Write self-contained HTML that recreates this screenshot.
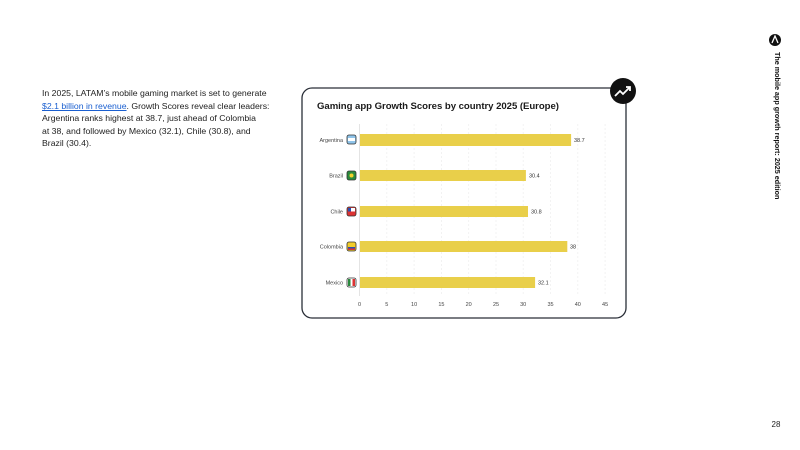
<!DOCTYPE html>
<html><head><meta charset="utf-8"><style>
html,body{margin:0;padding:0;background:#fff;width:800px;height:450px;overflow:hidden;font-family:"Liberation Sans",sans-serif;}
.p{position:absolute;left:42px;top:87px;font-size:8.7px;line-height:12.5px;color:#222;white-space:nowrap;}
.p a{color:#1a5fd0;text-decoration:underline;}
.v{position:absolute;left:770px;top:52px;transform-origin:0 0;transform:rotate(90deg) translateY(-12px);font-size:7.2px;font-weight:bold;white-space:nowrap;color:#111;}
</style></head><body>
<div class="p">In 2025, LATAM’s mobile gaming market is set to generate<br><a>$2.1 billion in revenue</a>. Growth Scores reveal clear leaders:<br>Argentina ranks highest at 38.7, just ahead of Colombia<br>at 38, and followed by Mexico (32.1), Chile (30.8), and<br>Brazil (30.4).</div>
<div class="v">The mobile app growth report: 2025 edition</div>
<svg width="800" height="450" style="position:absolute;left:0;top:0" font-family="Liberation Sans, sans-serif">
<circle cx="775" cy="40" r="6" fill="#111"/>
<path d="M772 43 L775 36 L778 43" stroke="#fff" stroke-width="1.3" fill="none"/>
<text x="776" y="427" font-size="8" text-anchor="middle" fill="#222">28</text>
<rect x="302" y="88" width="324" height="230" rx="10" fill="#fff" stroke="#2a2f38" stroke-width="1.3"/>
<circle cx="623" cy="91" r="13" fill="#111"/>
<path d="M615 96 L620 91 L623 94 L630 87 M626 87 L630 87 L630 91" stroke="#fff" stroke-width="1.8" fill="none"/>
<text x="317" y="109" font-size="9.6" font-weight="bold" fill="#1a1a1a" textLength="242">Gaming app Growth Scores by country 2025 (Europe)</text>
<g stroke="#eee" stroke-dasharray="2,2" stroke-width="0.7">
<line x1="386.8" y1="124" x2="386.8" y2="296"/><line x1="414.1" y1="124" x2="414.1" y2="296"/><line x1="441.4" y1="124" x2="441.4" y2="296"/><line x1="468.7" y1="124" x2="468.7" y2="296"/><line x1="496" y1="124" x2="496" y2="296"/><line x1="523.2" y1="124" x2="523.2" y2="296"/><line x1="550.5" y1="124" x2="550.5" y2="296"/><line x1="577.8" y1="124" x2="577.8" y2="296"/><line x1="605.1" y1="124" x2="605.1" y2="296"/>
</g>
<line x1="359.5" y1="124" x2="359.5" y2="296" stroke="#ddd" stroke-width="0.8"/>
<g fill="#e9cf4a">
<rect x="360" y="134" width="211.1" height="12"/>
<rect x="360" y="170" width="165.9" height="11"/>
<rect x="360" y="206" width="168" height="11"/>
<rect x="360" y="241" width="207.3" height="11"/>
<rect x="360" y="277" width="175.1" height="11"/>
</g>
<g font-size="5.5" fill="#333">
<text x="574" y="142">38.7</text><text x="529" y="177.5">30.4</text><text x="531" y="213.5">30.8</text><text x="570" y="248.5">38</text><text x="538" y="284.5">32.1</text>
</g>
<g font-size="5.5" fill="#444" text-anchor="end">
<text x="343" y="142">Argentina</text><text x="343" y="177.5">Brazil</text><text x="343" y="213.5">Chile</text><text x="343" y="248.5">Colombia</text><text x="343" y="284.5">Mexico</text>
</g>
<g stroke="#333" stroke-width="0.8">
<rect x="347" y="135" width="9" height="9" rx="2" fill="#8fc4ea"/>
<rect x="347" y="171" width="9" height="9" rx="2" fill="#2b8a3e"/>
<rect x="347" y="207" width="9" height="9" rx="2" fill="#d33"/>
<rect x="347" y="242" width="9" height="9" rx="2" fill="#f2cc2b"/>
<rect x="347" y="278" width="9" height="9" rx="2" fill="#fff"/>
</g>
<rect x="348" y="138" width="7" height="3" fill="#fff"/>
<circle cx="351.5" cy="175.5" r="2" fill="#f2d22b"/>
<rect x="348" y="208" width="7" height="3.5" fill="#fff"/><rect x="348" y="208" width="3" height="3.5" fill="#2a4fb0"/>
<rect x="348" y="247" width="7" height="1.5" fill="#2a4fb0"/><rect x="348" y="248.5" width="7" height="1.5" fill="#d33"/>
<rect x="348" y="279" width="2.5" height="7" fill="#2b8a3e"/><rect x="352.5" y="279" width="2.5" height="7" fill="#d33"/>
<g font-size="5.5" fill="#444" text-anchor="middle">
<text x="359.5" y="306">0</text><text x="386.8" y="306">5</text><text x="414.1" y="306">10</text><text x="441.4" y="306">15</text><text x="468.7" y="306">20</text><text x="496" y="306">25</text><text x="523.2" y="306">30</text><text x="550.5" y="306">35</text><text x="577.8" y="306">40</text><text x="605.1" y="306">45</text>
</g>
</svg>
</body></html>
